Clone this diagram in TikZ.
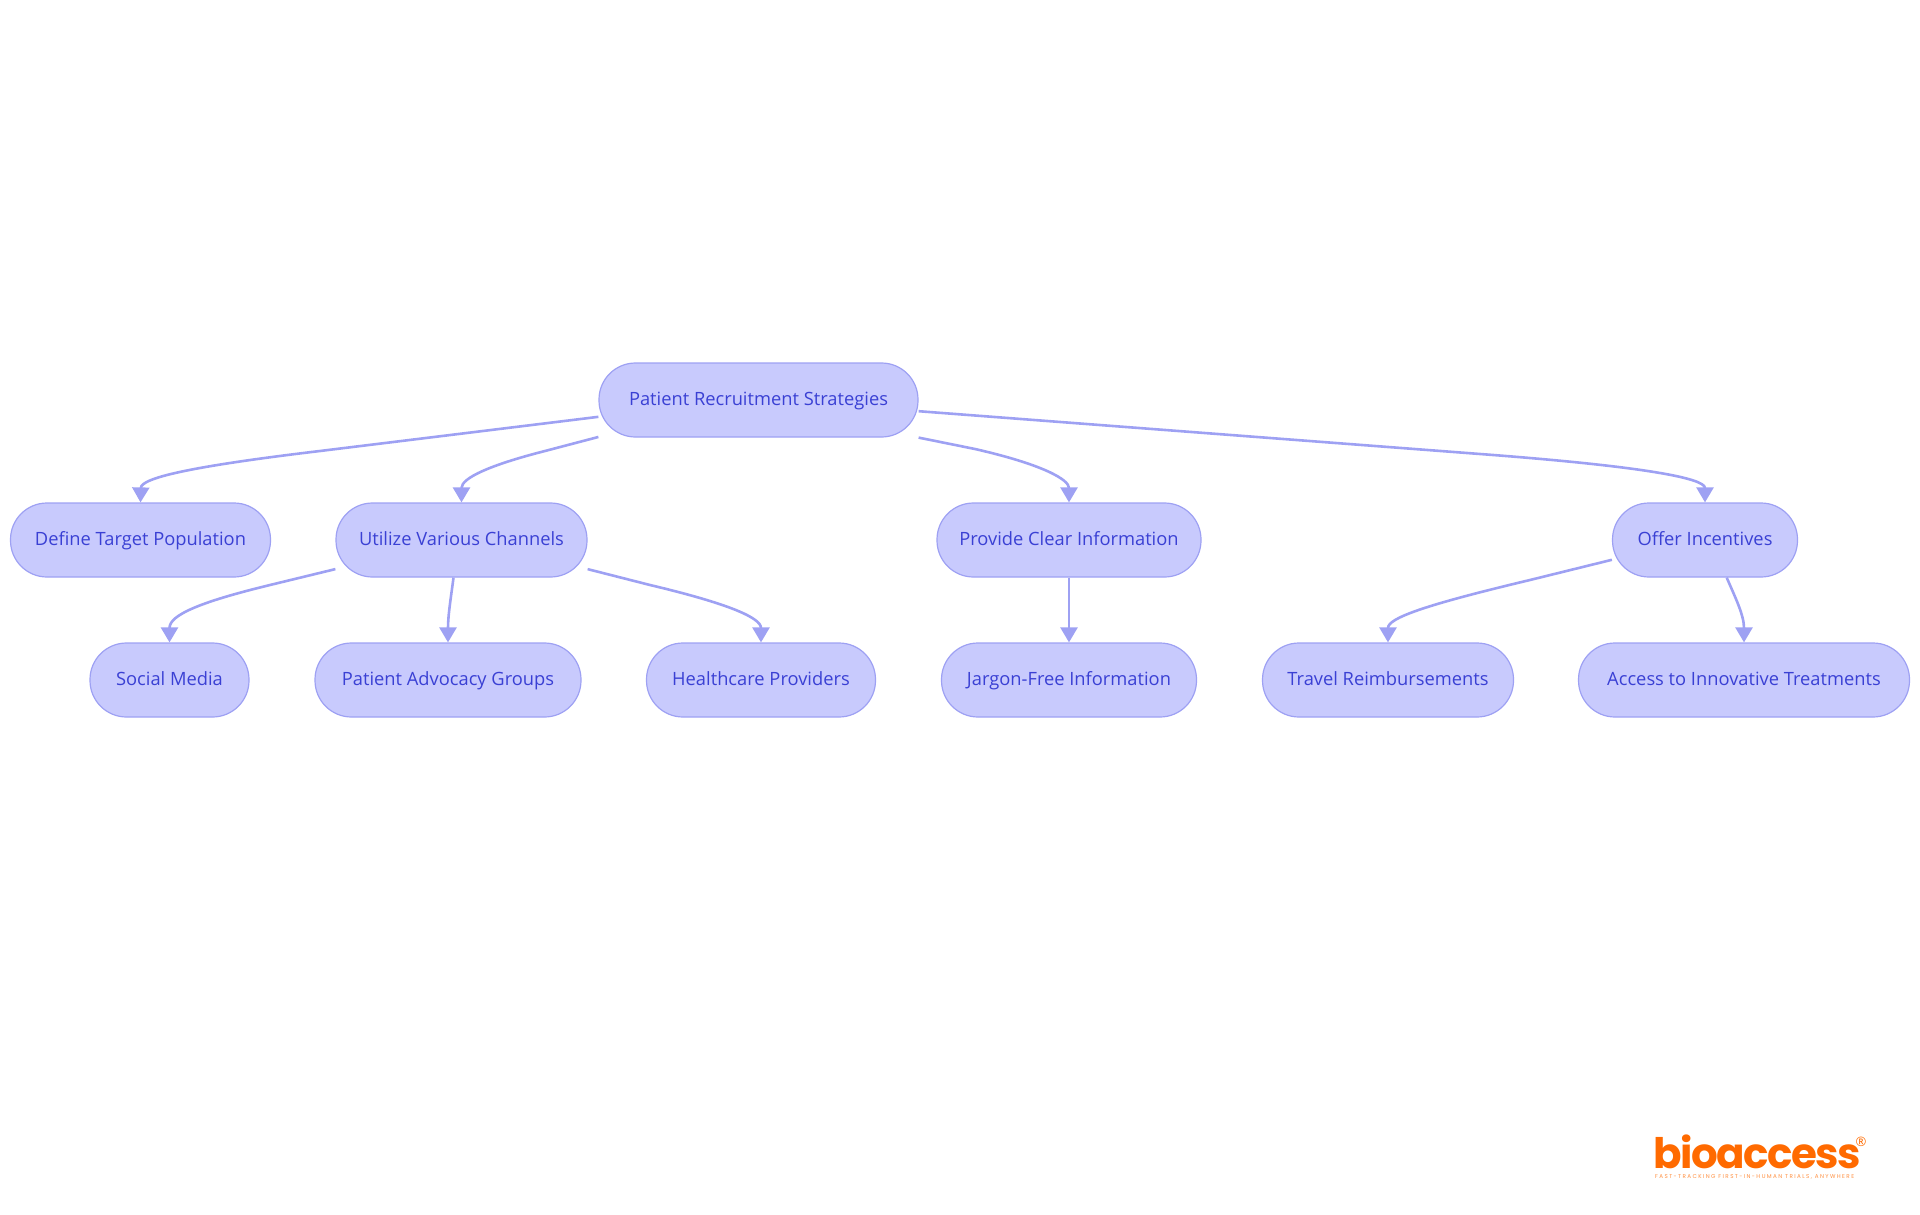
\documentclass[tikz,border=0pt]{standalone}
\usepackage{fontspec}
\setmainfont{Open Sans}
\newfontfamily\logofont[LetterSpace=-3.6]{Poppins}
\newfontfamily\tagfont[LetterSpace=25]{Poppins}
\usetikzlibrary{arrows.meta}
\definecolor{pillfill}{HTML}{C8CAFD}
\definecolor{pillline}{HTML}{9EA1F3}
\definecolor{pilltext}{HTML}{3A40D4}
\definecolor{logoorange}{HTML}{FF6A00}
\tikzset{
  x=1pt,y=-1pt,
  pill/.style={draw=pillline,fill=pillfill,line width=1.2pt,rounded corners=36.5pt,
    minimum height=74pt,inner sep=0pt,text height=15pt,text depth=4pt,text=pilltext,font=\fontsize{18.3}{22}\selectfont},
  conn/.style={draw=pillline,line width=2.6pt,-{Triangle[length=15pt,width=17pt]}},
}
\begin{document}
\begin{tikzpicture}
\useasboundingbox (0,0) rectangle (1920,1215);
\node[pill,minimum width=319pt] (root) at (758.5,400) {Patient Recruitment Strategies};
\node[pill,minimum width=260pt] (define) at (140.5,540) {Define Target Population};
\node[pill,minimum width=251pt] (utilize) at (461.5,540) {Utilize Various Channels};
\node[pill,minimum width=264pt] (provide) at (1069,540) {Provide Clear Information};
\node[pill,minimum width=185pt] (offer) at (1705,540) {Offer Incentives};
\node[pill,minimum width=159pt] (social) at (169.5,680) {Social Media};
\node[pill,minimum width=266pt] (advocacy) at (448,680) {Patient Advocacy Groups};
\node[pill,minimum width=229pt] (health) at (761,680) {Healthcare Providers};
\node[pill,minimum width=255pt] (jargon) at (1069,680) {Jargon-Free Information};
\node[pill,minimum width=251pt] (travel) at (1388,680) {Travel Reimbursements};
\node[pill,minimum width=331pt] (access) at (1744,680) {Access to Innovative Treatments};

\draw[conn] (root.186.4) -- (320,451) .. controls (190,466.5) and (141,478) .. (define.north);
\draw[conn] (root.193.2) -- (545,451) .. controls (490,465) and (461.5,478) .. (utilize.north);
\draw[conn] (root.south east) -- (975,449) .. controls (1045,465) and (1069,480) .. (provide.north);
\draw[conn] (root.-4.3) -- (1480,454) .. controls (1640,466) and (1705,478) .. (offer.north);
\draw[conn] (utilize.193) -- (270,585) .. controls (200,602) and (169.5,615) .. (social.north);
\draw[conn] (utilize.258.5) .. controls (451,597) and (448,615) .. (advocacy.north);
\draw[conn] (utilize.-13) -- (650,585) .. controls (730,604) and (761,618) .. (health.north);
\draw[conn] (provide.south) -- (jargon.north);
\draw[conn] (offer.192) -- (1530,580) .. controls (1425,605) and (1388,618) .. (travel.north);
\draw[conn] (offer.300.3) .. controls (1735,597) and (1744,615) .. (access.north);

\node[inner sep=0pt,anchor=base west,text depth=0pt,text=logoorange,font=\logofont\bfseries\fontsize{42}{42}\selectfont] (logo) at (1653,1168) {bioaccess};
\node[inner sep=0pt,text=logoorange,font=\fontsize{13}{13}\selectfont] (reg) at (1861,1141.5) {®};
\node[inner sep=0pt,anchor=west,text=logoorange!75,font=\tagfont\fontsize{5.6}{6}\selectfont] (tag) at (1655,1177) {FAST-TRACKING FIRST-IN-HUMAN TRIALS, ANYWHERE};
\end{tikzpicture}
\end{document}
